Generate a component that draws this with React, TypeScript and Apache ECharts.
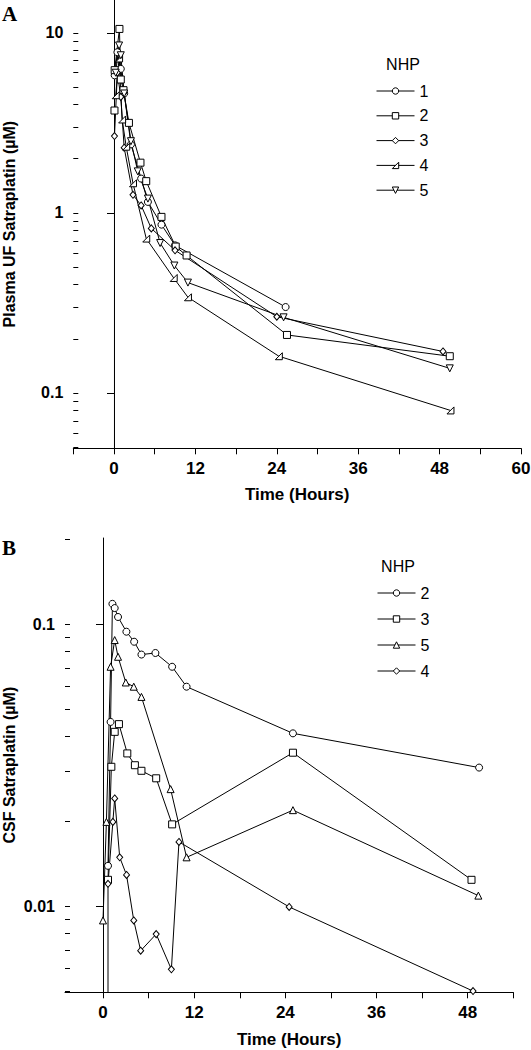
import React, { useEffect, useRef } from "react";
import * as echarts from "echarts";

// ---------- Panel A (Plasma UF) ----------
const A_NAMES = ["1", "2", "3", "4", "5"];
const A1_T = [0.1, 0.5, 1.0, 1.5, 2.5, 4.0, 5.0, 7.0, 9.0, 25.3];
const A1_V = [5.8, 7.8, 6.3, 4.6, 2.4, 1.55, 1.15, 0.86, 0.66, 0.30];
const A2_T = [0.07, 0.1, 0.8, 1.0, 1.4, 2.2, 3.9, 4.75, 7.0, 9.1, 10.7, 25.5, 49.5];
const A2_V = [3.7, 6.2, 10.5, 5.5, 4.8, 3.16, 1.9, 1.5, 0.95, 0.65, 0.58, 0.21, 0.16];
const A3_T = [0.07, 0.5, 1.0, 1.5, 2.8, 4.0, 5.5, 9.0, 24.0, 48.5];
const A3_V = [2.67, 6.0, 4.4, 2.3, 1.26, 1.1, 0.82, 0.62, 0.265, 0.17];
const A4_T = [0.25, 0.75, 1.2, 1.8, 2.8, 4.75, 8.8, 10.9, 24.3, 49.6];
const A4_V = [4.5, 7.2, 3.3, 2.33, 1.46, 0.72, 0.435, 0.34, 0.16, 0.08];
const A5_T = [0.25, 0.75, 1.0, 1.5, 2.5, 3.5, 5.0, 6.8, 8.9, 10.9, 25.0, 49.5];
const A5_V = [6.0, 8.5, 7.5, 4.6, 2.5, 1.7, 1.2, 0.68, 0.51, 0.41, 0.263, 0.137];
const A_DROP_T = 0.07;
const A_DROP_TOP = 2.67;

const A_X_MIN = -6;
const A_X_MAX = 60;
const A_Y_MIN = 0.0493;
const A_Y_MAX = 15.2;
const A_X_TICKS = [-6, 0, 6, 12, 18, 24, 30, 36, 42, 48, 54, 60];
const A_X_LABELS = [0, 12, 24, 36, 48, 60];
const A_Y_LABELS = [0.1, 1, 10];
const A_Y_MINOR = [0.05, 0.06, 0.07, 0.08, 0.09, 0.1, 0.2, 0.3, 0.4, 0.5, 0.6, 0.7, 0.8, 0.9, 1, 2, 3, 4, 5, 6, 7, 8, 9, 10];

// ---------- Panel B (CSF) ----------
const B_NAMES = ["2", "3", "5", "4"];
const B2_T = [0.66, 1.0, 1.24, 1.54, 1.98, 3.08, 4.1, 5.06, 6.9, 9.1, 11.0, 25.0, 49.5];
const B2_V = [0.0139, 0.045, 0.118, 0.114, 0.106, 0.094, 0.0866, 0.078, 0.079, 0.0706, 0.06, 0.041, 0.031];
const B3_T = [0.66, 1.1, 1.54, 2.1, 3.2, 4.2, 5.06, 7.0, 9.1, 25.0, 48.5];
const B3_V = [0.0124, 0.0312, 0.0415, 0.0442, 0.0348, 0.0316, 0.0302, 0.0284, 0.0195, 0.035, 0.0124];
const B5_T = [0, 0.45, 1.0, 1.54, 1.98, 3.0, 4.05, 5.06, 8.9, 11.0, 25.0, 49.4];
const B5_V = [0.0089, 0.0199, 0.0706, 0.0878, 0.0766, 0.0621, 0.06, 0.0552, 0.026, 0.0149, 0.0219, 0.0109];
const B4_T = [0.66, 1.3, 1.54, 2.2, 3.1, 4.05, 4.96, 7.0, 9.0, 10.0, 24.5, 48.7];
const B4_V = [0.012, 0.0199, 0.0241, 0.0149, 0.0129, 0.0089, 0.00695, 0.00796, 0.00597, 0.0169, 0.00994, 0.005];
const B_DROP_T = 0.66;
const B_DROP_TOP = 0.0124;

const B_X_MIN = -5;
const B_X_MAX = 54;
const B_Y_MIN = 0.00495;
const B_Y_MAX = 0.202;
const B_X_TICKS = [0, 6, 12, 18, 24, 30, 36, 42, 48, 54];
const B_X_LABELS = [0, 12, 24, 36, 48];
const B_Y_LABELS = [0.01, 0.1];
const B_Y_MINOR = [0.005, 0.006, 0.007, 0.008, 0.009, 0.01, 0.02, 0.03, 0.04, 0.05, 0.06, 0.07, 0.08, 0.09, 0.1, 0.2];

const FONT = "'Liberation Sans', Arial, sans-serif";
const SERIF = "'Liberation Serif', 'Times New Roman', serif";

const SYM_CIRCLE = "circle";
const SYM_SQUARE = "rect";
const SYM_DIAMOND = "diamond";
const SYM_RTRI = "path://M10,0L10,10L0,10Z";
const SYM_TRI = "triangle";
const SYM_INVTRI = "path://M0,0L10,0L5,10Z";

function pairs(t: number[], v: number[]) {
  return t.map((x, i) => [x, v[i]]);
}

function lineSeries(name: string, t: number[], v: number[], symbol: string, xi: number, yi: number, size: number | number[] = 7) {
  return {
    type: "line",
    name,
    xAxisIndex: xi,
    yAxisIndex: yi,
    data: pairs(t, v),
    symbol,
    symbolSize: size,
    symbolKeepAspect: true,
    showAllSymbol: true,
    lineStyle: { color: "#000", width: 1 },
    itemStyle: { color: "#fff", borderColor: "#000", borderWidth: 1 },
    emphasis: { disabled: true },
    z: 3,
  };
}

function dropSeries(t: number, bottom: number, top: number, xi: number, yi: number) {
  return {
    type: "line",
    name: "drop" + xi,
    xAxisIndex: xi,
    yAxisIndex: yi,
    data: [[t, bottom], [t, top]],
    showSymbol: false,
    symbol: "none",
    lineStyle: { color: "#000", width: 1 },
    silent: true,
    z: 2,
  };
}

function xAxis(gi: number, min: number, max: number, ticks: number[], labels: number[], nameGap: number) {
  return {
    type: "value",
    gridIndex: gi,
    min,
    max,
    splitLine: { show: false },
    axisLine: { show: true, onZero: false, lineStyle: { color: "#000", width: 1 } },
    axisTick: { show: true, customValues: ticks, length: 6, inside: false, lineStyle: { color: "#000" } },
    axisLabel: {
      show: true,
      customValues: labels,
      margin: 12,
      color: "#000",
      fontFamily: FONT,
      fontWeight: "bold",
      fontSize: 17,
    },
    name: "Time (Hours)",
    nameLocation: "middle",
    nameGap,
    nameMoveOverlap: false,
    nameTextStyle: { color: "#000", fontFamily: FONT, fontWeight: "bold", fontSize: 17 },
  };
}

function yAxisMain(gi: number, min: number, max: number, labels: number[], name: string, nameGap: number) {
  return {
    type: "log",
    logBase: 10,
    gridIndex: gi,
    position: "left",
    min,
    max,
    splitLine: { show: false },
    axisLine: { show: true, lineStyle: { color: "#000", width: 1 } },
    axisTick: { show: true, customValues: labels, length: 7, inside: false, lineStyle: { color: "#000" } },
    axisLabel: {
      show: true,
      customValues: labels,
      margin: 10,
      color: "#000",
      fontFamily: FONT,
      fontWeight: "bold",
      fontSize: 16,
      formatter: (v: number) => String(v),
    },
    name,
    nameLocation: "middle",
    nameGap,
    nameMoveOverlap: false,
    nameTextStyle: { color: "#000", fontFamily: FONT, fontWeight: "bold", fontSize: 16 },
  };
}

function yAxisMinor(gi: number, min: number, max: number, ticks: number[]) {
  return {
    type: "log",
    logBase: 10,
    gridIndex: gi,
    position: "left",
    offset: 0,
    min,
    max,
    splitLine: { show: false },
    axisLine: { show: false },
    axisTick: { show: true, customValues: ticks, length: 5, inside: true, lineStyle: { color: "#000" } },
    axisLabel: { show: false },
  };
}

function legend(names: string[], prefix: string, left: number, top: number, gap: number) {
  return {
    orient: "vertical",
    left,
    top,
    data: names.map((n) => prefix + n),
    formatter: (name: string) => name.slice(prefix.length),
    itemWidth: 38,
    itemHeight: 8,
    itemGap: gap,
    selectedMode: false,
    lineStyle: { width: 1, color: "#000" },
    itemStyle: { color: "#fff", borderColor: "#000", borderWidth: 1 },
    textStyle: { color: "#000", fontFamily: FONT, fontSize: 16 },
  };
}

export default function App() {
  const ref = useRef<HTMLDivElement>(null);
  useEffect(() => {
    document.body.style.margin = "0";
    if (!ref.current) return;
    const chart = echarts.init(ref.current, undefined, { renderer: "svg" });
    const option = {
      animation: false,
      backgroundColor: "#fff",
      grid: [
        { left: 73.3, top: 0, width: 447.7, height: 448.3, containLabel: false, outerBoundsMode: "none" },
        { left: 65, top: 538, width: 448.3, height: 454.3, containLabel: false, outerBoundsMode: "none" },
      ],
      xAxis: [
        xAxis(0, A_X_MIN, A_X_MAX, A_X_TICKS, A_X_LABELS, 38),
        xAxis(1, B_X_MIN, B_X_MAX, B_X_TICKS, B_X_LABELS, 39),
      ],
      yAxis: [
        yAxisMain(0, A_Y_MIN, A_Y_MAX, A_Y_LABELS, "Plasma UF Satraplatin (µM)", 56),
        yAxisMinor(0, A_Y_MIN, A_Y_MAX, A_Y_MINOR),
        yAxisMain(1, B_Y_MIN, B_Y_MAX, B_Y_LABELS, "CSF Satraplatin (µM)", 48),
        yAxisMinor(1, B_Y_MIN, B_Y_MAX, B_Y_MINOR),
      ],
      legend: [
        legend(A_NAMES, "A-", 371, 78, 8.8),
        legend(B_NAMES, "B-", 372, 580, 10),
      ],
      graphic: [
        { type: "text", left: 2, top: 3, style: { text: "A", font: `bold 21px ${SERIF}`, fill: "#000" } },
        { type: "text", left: 2, top: 537, style: { text: "B", font: `bold 21px ${SERIF}`, fill: "#000" } },
        { type: "text", x: 403, y: 64, style: { text: "NHP", font: `16px ${FONT}`, fill: "#000", textAlign: "center", textVerticalAlign: "middle" } },
        { type: "text", x: 398, y: 566, style: { text: "NHP", font: `16px ${FONT}`, fill: "#000", textAlign: "center", textVerticalAlign: "middle" } },
      ],
      series: [
        dropSeries(A_DROP_T, A_Y_MIN, A_DROP_TOP, 0, 0),
        lineSeries("A-1", A1_T, A1_V, SYM_CIRCLE, 0, 0),
        lineSeries("A-2", A2_T, A2_V, SYM_SQUARE, 0, 0),
        lineSeries("A-3", A3_T, A3_V, SYM_DIAMOND, 0, 0, [6, 7]),
        lineSeries("A-4", A4_T, A4_V, SYM_RTRI, 0, 0),
        lineSeries("A-5", A5_T, A5_V, SYM_INVTRI, 0, 0),
        dropSeries(B_DROP_T, B_Y_MIN, B_DROP_TOP, 1, 2),
        lineSeries("B-2", B2_T, B2_V, SYM_CIRCLE, 1, 2),
        lineSeries("B-3", B3_T, B3_V, SYM_SQUARE, 1, 2),
        lineSeries("B-5", B5_T, B5_V, SYM_TRI, 1, 2),
        lineSeries("B-4", B4_T, B4_V, SYM_DIAMOND, 1, 2, [6, 7]),
      ],
    };
    chart.setOption(option as any);
    return () => chart.dispose();
  }, []);
  return <div ref={ref} style={{ width: 531, height: 1050 }} />;
}
